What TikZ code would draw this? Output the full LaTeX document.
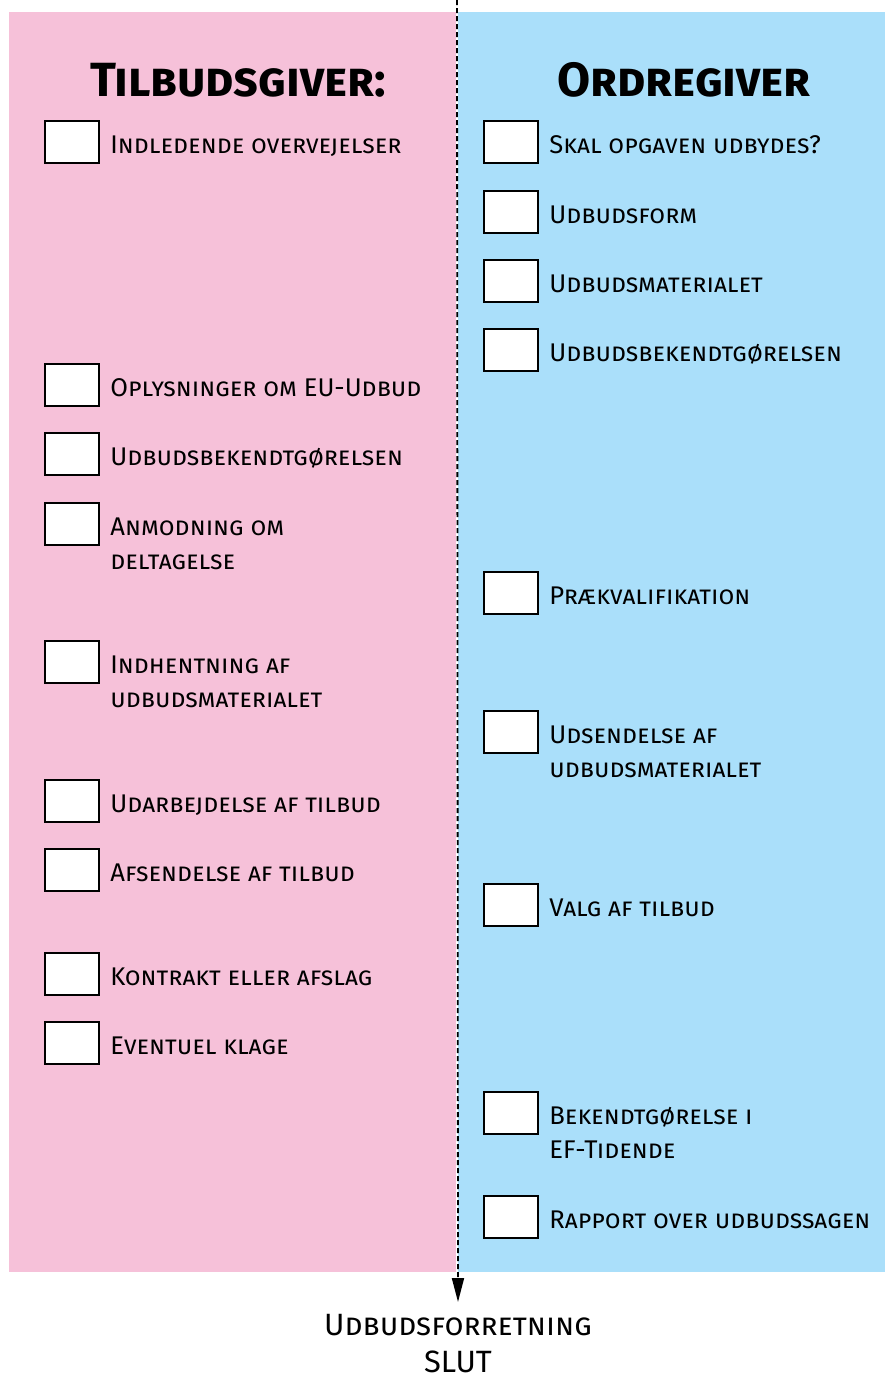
\documentclass[tikz,border=0pt]{standalone}
\usepackage{fontspec}
\setmainfont{Fira Sans}
\usetikzlibrary{arrows.meta}

\definecolor{rosa}{RGB}{246,193,217}
\definecolor{lyseblaa}{RGB}{170,223,250}

\tikzset{
  felt/.style={draw=black, fill=white, line width=0.7pt, minimum width=27pt, minimum height=21pt, inner sep=0pt},
  punkt/.style={anchor=base west, inner sep=0pt, align=left, font=\fontsize{12.8}{17.25}\selectfont\scshape},
  overskrift/.style={anchor=base, inner sep=0pt, font=\fontsize{24}{30}\selectfont\bfseries\scshape}
}

\begin{document}
\begin{tikzpicture}[x=0.5pt, y=-0.5pt]
  \useasboundingbox (0,0) rectangle (885,1377);
  \fill[rosa] (9,12) rectangle (456,1272);
  \fill[lyseblaa] (458,12) rectangle (885,1272);

  % overskrifter
  \node[overskrift] (tilbud) at (238,96) {Tilbudsgiver:};
  \node[overskrift] (ordre) at (684,96) {Ordregiver};

  % tilbudsgiver (to linjer: base = sidste linje)
  \node[felt] (t1) at (72,142) {};
  \node[punkt] (t1t) at (110,153) {Indledende overvejelser};
  \node[felt] (t2) at (72,385) {};
  \node[punkt] (t2t) at (110,396) {Oplysninger om EU-Udbud};
  \node[felt] (t3) at (72,454) {};
  \node[punkt] (t3t) at (110,465) {Udbudsbekendtgørelsen};
  \node[felt] (t4) at (72,524) {};
  \node[punkt] (t4t) at (110,569.5) {Anmodning om\\deltagelse};
  \node[felt] (t5) at (72,662) {};
  \node[punkt] (t5t) at (110,707.5) {Indhentning af\\udbudsmaterialet};
  \node[felt] (t6) at (72,801) {};
  \node[punkt] (t6t) at (110,812) {Udarbejdelse af tilbud};
  \node[felt] (t7) at (72,870) {};
  \node[punkt] (t7t) at (110,881) {Afsendelse af tilbud};
  \node[felt] (t8) at (72,974) {};
  \node[punkt] (t8t) at (110,985) {Kontrakt eller afslag};
  \node[felt] (t9) at (72,1043) {};
  \node[punkt] (t9t) at (110,1054) {Eventuel klage};

  % ordregiver
  \node[felt] (o1) at (511,142) {};
  \node[punkt] (o1t) at (549,153) {Skal opgaven udbydes?};
  \node[felt] (o2) at (511,212) {};
  \node[punkt] (o2t) at (549,223) {Udbudsform};
  \node[felt] (o3) at (511,281) {};
  \node[punkt] (o3t) at (549,292) {Udbudsmaterialet};
  \node[felt] (o4) at (511,350) {};
  \node[punkt] (o4t) at (549,361) {Udbudsbekendtgørelsen};
  \node[felt] (o5) at (511,593) {};
  \node[punkt] (o5t) at (549,604) {Prækvalifikation};
  \node[felt] (o6) at (511,732) {};
  \node[punkt] (o6t) at (549,777.5) {Udsendelse af\\udbudsmaterialet};
  \node[felt] (o7) at (511,905) {};
  \node[punkt] (o7t) at (549,916) {Valg af tilbud};
  \node[felt] (o8) at (511,1113) {};
  \node[punkt] (o8t) at (549,1158.5) {Bekendtgørelse i\\EF-Tidende};
  \node[felt] (o9) at (511,1217) {};
  \node[punkt] (o9t) at (549,1228) {Rapport over udbudssagen};

  % skillelinje
  \coordinate (start) at (457,0);
  \node[anchor=north, inner sep=0pt, align=center, font=\fontsize{15.4}{18.5}\selectfont\scshape] (slut) at (458,1314) {Udbudsforretning\\SLUT};
  \draw[line width=0.9pt, dash pattern=on 2.5pt off 1.5pt, -{Triangle[length=12pt,width=6pt]}] (start) -- ([yshift=6pt]slut.north);
\end{tikzpicture}
\end{document}
